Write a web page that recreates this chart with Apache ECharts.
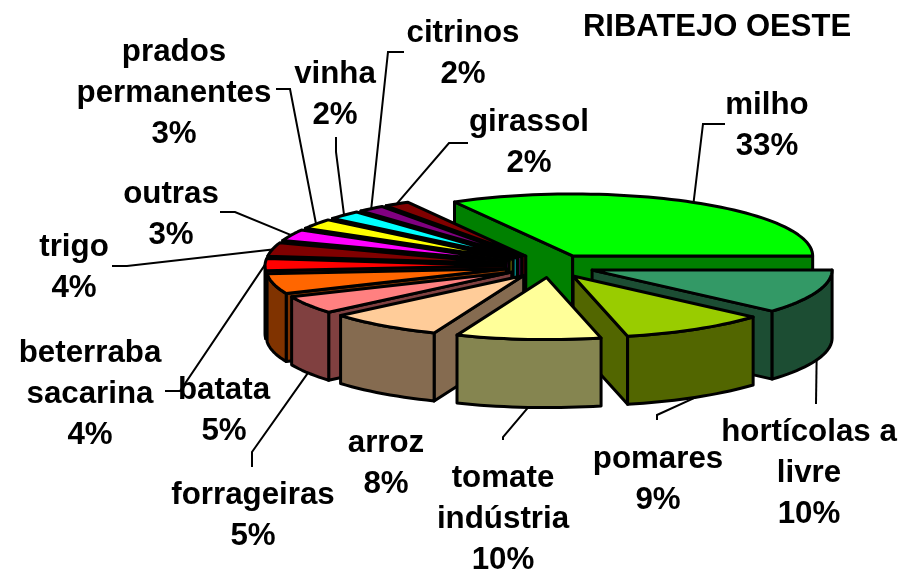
<!DOCTYPE html>
<html><head><meta charset="utf-8">
<style>html,body{margin:0;padding:0;background:#fff}#c{width:901px;height:569px}</style>
<script src="https://cdn.jsdelivr.net/npm/echarts@6/dist/echarts.min.js"></script>
</head><body><div id="c"></div>
<script>
const chartTitle = 'RIBATEJO OESTE';
const sliceNames = ['milho','hortícolas a\nlivre','pomares','tomate\nindústria','arroz','forrageiras','batata','beterraba\nsacarina','trigo','outras','prados\npermanentes','vinha','citrinos','girassol'];
const sliceValues = [33,10,9,10,8,5,5,4,4,3,3,2,2,2];
const topColors = ['#00ff00','#339966','#99cc00','#ffff99','#ffcc99','#ff8080','#ff6600','#ff0000','#800000','#ff00ff','#ffff00','#00ffff','#800080','#800000'];
const wallColors = ['#008000','#1c4d33','#526600','#858550','#856b50','#804040','#803300','#800000','#400000','#800080','#808000','#008080','#400040','#400000'];
// back to front
const paintOrder = [0,13,12,11,10,9,8,7,6,5,4,1,2,3];

// view of the 3D pie
const view = {cx:550, cy:266, rx:240, ry:62, depth:68, explode:45, firstAngle:-29.5};
// perspective correction of the pie angle: [angle, shift] in degrees
const perspective = [[-30,0],[90,0.7],[126,6.2],[158,9.2],[194,8.2],[223,7.2],[241,6],[259,7],[274,3.5],[288,2],[299,2],[310,0.5],[317,2],[331,0]];
// label layout: centre x, first line y, elbow polyline (label side of the leader)
const labelLayout = [
 {x:767,y:105,leader:[[725,124],[703,124]]},
 {x:809,y:432,leader:[[816,404]]},
 {x:658,y:459,leader:[[657,420],[657,415]]},
 {x:503,y:478,leader:[[503,440],[503,437]]},
 {x:386,y:443},
 {x:253,y:495,leader:[[252,467],[252,452]]},
 {x:224,y:390},
 {x:90,y:353,leader:[[165,391],[180,391]]},
 {x:74,y:247,leader:[[112,266],[127,266]]},
 {x:171,y:194,leader:[[220,212],[235,212]]},
 {x:174,y:52,leader:[[276,89],[290,89]]},
 {x:335,y:74,leader:[[336,137],[336,152]]},
 {x:463,y:33,leader:[[404,52],[388,52]]},
 {x:529,y:122,leader:[[468,143],[449,143]]}
];
const lineStep = 41;
const labelFont = 'bold 31.3px "Liberation Sans", Arial, sans-serif';

const total = sliceValues.reduce((a,b)=>a+b,0);
function warp(a){
  const t = ((a+30)%360+360)%360-30;
  for(let i=1;i<perspective.length;i++){
    const p=perspective[i-1], q=perspective[i];
    if(t<=q[0]) return a+echarts.number.linearMap(t,[p[0],q[0]],[p[1],q[1]]);
  }
  return a;
}
let cum=0;
const slices = sliceValues.map((v,i)=>{
  const a1=echarts.number.linearMap(cum,[0,total],[view.firstAngle,view.firstAngle+360]);
  cum+=v;
  const a2=echarts.number.linearMap(cum,[0,total],[view.firstAngle,view.firstAngle+360]);
  const t1=warp(a1), t2=warp(a2), mid=(t1+t2)/2, r=mid*Math.PI/180;
  const k=view.ry/view.rx;
  return {t1,t2,mid,ax:view.cx+view.explode*Math.sin(r),ay:view.cy-view.explode*Math.cos(r)*k};
});
function rim(s,t){const r=t*Math.PI/180;return [s.ax+view.rx*Math.sin(r),s.ay-view.ry*Math.cos(r)];}
function down(p){return [p[0],p[1]+view.depth];}
function arc(s,a,b){const out=[];const n=Math.max(2,Math.ceil(Math.abs(b-a)/2));
  for(let i=0;i<=n;i++)out.push(rim(s,a+(b-a)*i/n));return out;}
function faces(i){
  const s=slices[i], line={stroke:'#000',lineWidth:3,lineJoin:'round'};
  const kids=[];
  const poly=(pts,fill)=>kids.push({type:'polygon',shape:{points:pts},style:Object.assign({fill},line)});
  const apex=[s.ax,s.ay];
  const cut=(t)=>{const p=rim(s,t);poly([apex,p,down(p),down(apex)],wallColors[i]);};
  if(Math.cos((s.t1-90)*Math.PI/180)<0)cut(s.t1);
  if(Math.cos((s.t2+90)*Math.PI/180)<0)cut(s.t2);
  const a=Math.max(s.t1,90), b=Math.min(s.t2,270);
  if(b>a){const top=arc(s,a,b);poly(top.concat(top.map(down).reverse()),wallColors[i]);}
  poly([apex].concat(arc(s,s.t1,s.t2)),topColors[i]);
  return kids;
}
function labelGroup(i){
  const s=slices[i], L=labelLayout[i], kids=[];
  if(L.leader){
    let end=rim(s,s.mid);
    const m=((s.mid%360)+360)%360;
    if(m>90&&m<270)end=down(end);
    kids.push({type:'polyline',shape:{points:L.leader.concat([end])},style:{stroke:'#000',lineWidth:2,fill:null}});
  }
  const pct=Math.round(sliceValues[i]/total*100)+'%';
  sliceNames[i].split('\n').concat([pct]).forEach((t,j)=>{
    kids.push({type:'text',style:{text:t,x:L.x,y:L.y+j*lineStep,align:'center',verticalAlign:'middle',font:labelFont,fill:'#000'}});
  });
  return {type:'group',children:kids};
}
const chart=echarts.init(document.getElementById('c'),null,{renderer:'canvas'});
chart.setOption({
  animation:false,
  backgroundColor:'#fff',
  title:{text:chartTitle,left:712,top:7,textAlign:'center',textStyle:{fontFamily:'Liberation Sans',fontWeight:'bold',fontSize:31,color:'#000'}},
  series:[
    {type:'custom',coordinateSystem:'none',z:2,data:paintOrder.map(i=>[i,sliceValues[i]]),
     renderItem:(p,api)=>({type:'group',children:faces(api.value(0))})},
    {type:'custom',coordinateSystem:'none',z:3,data:sliceNames.map((n,i)=>[i,sliceValues[i]]),
     renderItem:(p,api)=>labelGroup(api.value(0))}
  ]
});
</script></body></html>
